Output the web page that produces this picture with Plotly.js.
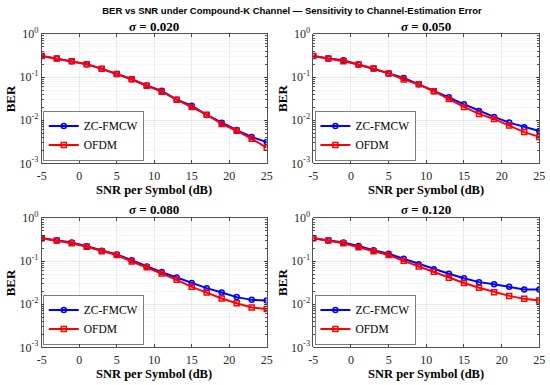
<!DOCTYPE html>
<html>
<head>
<meta charset="utf-8">
<script src="https://cdn.plot.ly/plotly-3.0.1.min.js"></script>
<style>html,body{margin:0;padding:0;background:#fff;}#chart{width:550px;height:385px;}</style>
</head>
<body>
<div id="chart"></div>
<script>
// ---- data ----
const snr = [-5,-3,-1,1,3,5,7,9,11,13,15,17,19,21,23,25];
const sigmaLabels = ['0.020','0.050','0.080','0.120'];
const seriesNames = ['ZC-FMCW','OFDM'];

const zc_020   = [0.31,0.27,0.232,0.20,0.155,0.118,0.089,0.064,0.048,0.030,0.0217,0.0132,0.0087,0.0059,0.0041,0.0031];
const ofdm_020 = [0.31,0.27,0.232,0.198,0.157,0.118,0.089,0.063,0.046,0.030,0.0202,0.0134,0.0082,0.0057,0.0037,0.0023];

const zc_050   = [0.31,0.27,0.247,0.196,0.158,0.122,0.095,0.068,0.047,0.034,0.0234,0.0164,0.0119,0.0088,0.0069,0.0056];
const ofdm_050 = [0.31,0.27,0.234,0.196,0.158,0.122,0.088,0.068,0.047,0.031,0.0203,0.0140,0.0107,0.0075,0.0053,0.0041];

const zc_080   = [0.34,0.30,0.27,0.22,0.174,0.143,0.105,0.075,0.0555,0.0417,0.031,0.0236,0.0187,0.0146,0.0126,0.0122];
const ofdm_080 = [0.34,0.30,0.26,0.215,0.17,0.138,0.098,0.072,0.0517,0.0368,0.0253,0.0186,0.0136,0.0105,0.0084,0.0077];

const zc_120   = [0.34,0.30,0.27,0.224,0.178,0.148,0.113,0.085,0.065,0.051,0.040,0.0325,0.029,0.0253,0.022,0.022];
const ofdm_120 = [0.34,0.30,0.26,0.21,0.17,0.138,0.1015,0.075,0.0565,0.041,0.031,0.024,0.019,0.0156,0.0133,0.0122];

const xTickVals = [-5,0,5,10,15,20,25];
const xTickText = ['-5','0','5','10','15','20','25'];
const yTickVals = [1,0.1,0.01,0.001];
const yTickText = ['10<sup>0</sup>','10<sup>-1</sup>','10<sup>-2</sup>','10<sup>-3</sup>'];

// ---- layout helpers ----
const W = 550, H = 385;
const serif = 'Liberation Serif';
const axCol = '#262626';
const panels = [
  {zc: zc_020, of: ofdm_020, x0: 41.7, x1: 266.7, y0: 34,  y1: 163.3},
  {zc: zc_050, of: ofdm_050, x0: 313.3, x1: 539.3, y0: 34,  y1: 163.3},
  {zc: zc_080, of: ofdm_080, x0: 41.7, x1: 266.7, y0: 218, y1: 347.3},
  {zc: zc_120, of: ofdm_120, x0: 313.3, x1: 539.3, y0: 218, y1: 347.3}
];

const data = [];
const layout = {
  width: W, height: H,
  margin: {l:0, r:0, t:0, b:0},
  paper_bgcolor: '#fff', plot_bgcolor: '#fff',
  showlegend: true,
  font: {family: serif, color: axCol},
  annotations: [],
  title: {
    text: '<b>BER vs SNR under Compound-K Channel — Sensitivity to Channel-Estimation Error</b>',
    font: {family: 'Liberation Sans', size: 9.5, color: '#000'},
    x: 292 / W, xanchor: 'center', y: 1 - 11/H, yanchor: 'middle', yref: 'paper'
  }
};

panels.forEach((p, i) => {
  const n = i + 1;
  const xa = n === 1 ? 'x' : 'x' + n;
  const ya = n === 1 ? 'y' : 'y' + n;
  const lg = n === 1 ? 'legend' : 'legend' + n;
  data.push({
    x: snr, y: p.zc, xaxis: xa, yaxis: ya, legend: lg,
    name: seriesNames[0], type: 'scatter', mode: 'lines+markers',
    line: {color: '#0000ff', width: 2},
    marker: {symbol: 'circle-open', size: 5, color: '#0000ff', line: {width: 1.5, color: '#0000ff'}}
  });
  data.push({
    x: snr, y: p.of, xaxis: xa, yaxis: ya, legend: lg,
    name: seriesNames[1], type: 'scatter', mode: 'lines+markers',
    line: {color: '#ff0000', width: 2},
    marker: {symbol: 'square-open', size: 5, color: '#ff0000', line: {width: 1.5, color: '#ff0000'}}
  });
  const xKey = n === 1 ? 'xaxis' : 'xaxis' + n;
  const yKey = n === 1 ? 'yaxis' : 'yaxis' + n;
  layout[xKey] = {
    domain: [p.x0 / W, p.x1 / W], anchor: ya,
    range: [-5, 25], tickmode: 'array', tickvals: xTickVals, ticktext: xTickText,
    showline: true, mirror: 'ticks', linecolor: axCol, linewidth: 0.8,
    ticks: 'inside', ticklen: 3, tickcolor: axCol, tickwidth: 0.8,
    showgrid: true, gridcolor: '#e0e0e0', gridwidth: 0.6, zeroline: false,
    tickfont: {family: serif, size: 12, color: axCol}, ticklabelstandoff: 1
  };
  layout[yKey] = {
    domain: [1 - p.y1 / H, 1 - p.y0 / H], anchor: xa,
    type: 'log', range: [-3, 0], tickmode: 'array', tickvals: yTickVals, ticktext: yTickText,
    showline: true, mirror: 'ticks', linecolor: axCol, linewidth: 0.8,
    ticks: 'inside', ticklen: 3, tickcolor: axCol, tickwidth: 0.8,
    showgrid: true, gridcolor: '#e0e0e0', gridwidth: 0.6, zeroline: false,
    minor: {dtick: 'D1', showgrid: true, gridcolor: '#efefef', gridwidth: 0.5, ticks: 'inside', ticklen: 2, tickcolor: axCol},
    tickfont: {family: serif, size: 12, color: axCol}
  };
  layout[lg] = {
    x: (p.x0 + 1.5) / W, xanchor: 'left', xref: 'paper',
    y: 1 - (p.y1 - 2.5) / H, yanchor: 'bottom', yref: 'paper',
    bgcolor: '#fff', bordercolor: axCol, borderwidth: 0.6,
    font: {family: 'Liberation Serif, Times New Roman, Times, serif', size: 11.5, color: '#000', weight: 'normal'},
    itemwidth: 30, tracegroupgap: 0
  };
  const cx = (p.x0 + p.x1) / 2 / W;
  layout.annotations.push({
    text: '<b><i>σ</i> = ' + sigmaLabels[i] + '</b>', xref: 'paper', yref: 'paper',
    x: cx, y: 1 - (p.y0 - 8) / H, xanchor: 'center', yanchor: 'middle', showarrow: false,
    font: {family: serif, size: 13, color: '#000'}
  });
  layout.annotations.push({
    text: '<b>SNR per Symbol (dB)</b>', xref: 'paper', yref: 'paper',
    x: cx, y: 1 - (p.y1 + 26.5) / H, xanchor: 'center', yanchor: 'middle', showarrow: false,
    font: {family: serif, size: 12.5, color: '#000'}
  });
  layout.annotations.push({
    text: '<b>BER</b>', xref: 'paper', yref: 'paper', textangle: -90,
    x: (p.x0 - 31) / W, y: 1 - (p.y0 + p.y1) / 2 / H, xanchor: 'center', yanchor: 'middle', showarrow: false,
    font: {family: serif, size: 13, color: '#000'}
  });
});

Plotly.newPlot('chart', data, layout, {displayModeBar: false, staticPlot: true});
</script>
</body>
</html>
